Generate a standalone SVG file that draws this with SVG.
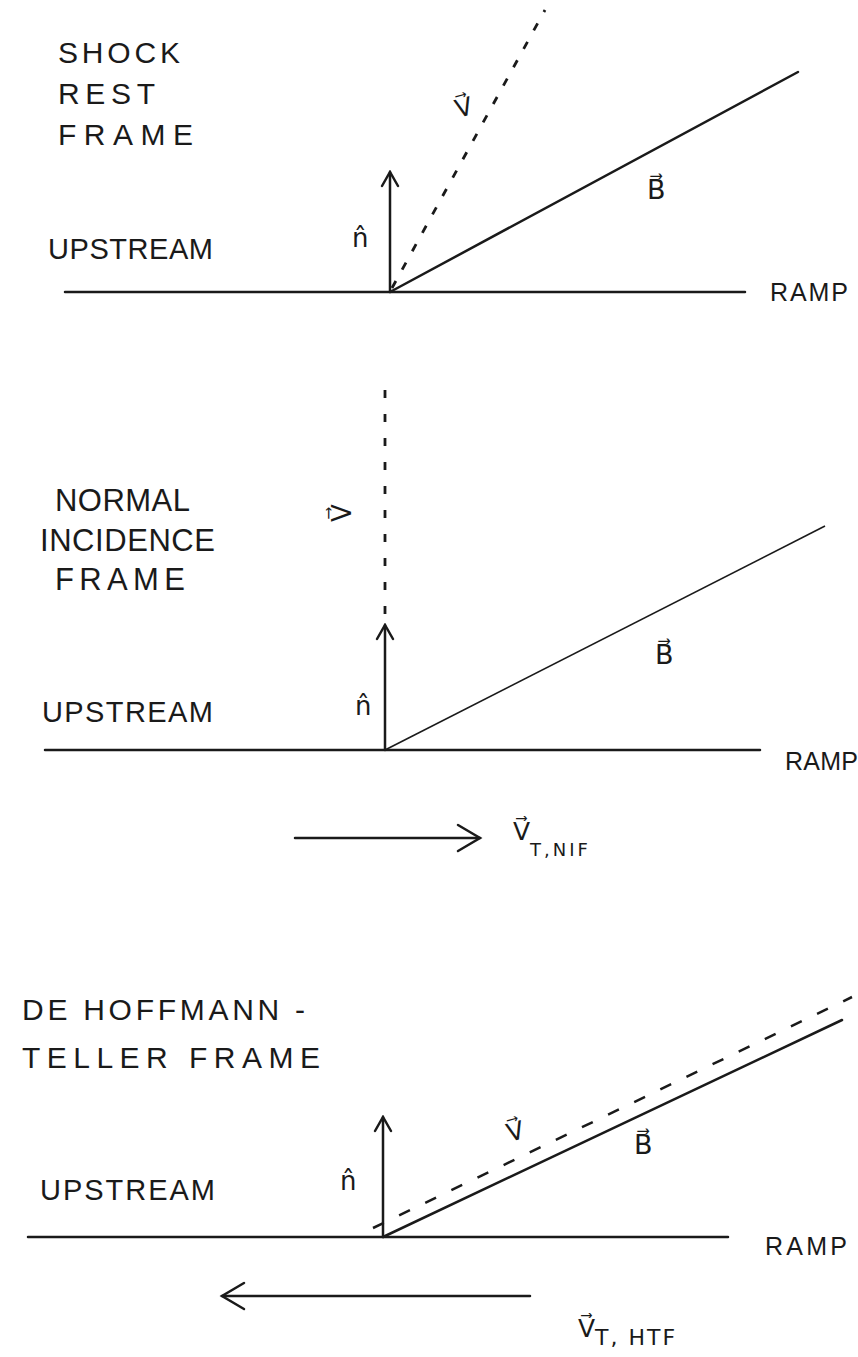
<svg xmlns="http://www.w3.org/2000/svg" width="858" height="1357" viewBox="0 0 858 1357">
<style>
.ln{stroke:#1a1a1a;stroke-width:2.5;fill:none;stroke-linecap:round}
.thin{stroke:#1a1a1a;stroke-width:1.6;fill:none}
.dash1{stroke:#1a1a1a;stroke-width:2.8;fill:none;stroke-dasharray:8 13}
.dot2{stroke:#1a1a1a;stroke-width:2.8;fill:none;stroke-dasharray:8 16}
.dash3{stroke:#1a1a1a;stroke-width:2.5;fill:none;stroke-dasharray:12 17}
.t{font-family:"Liberation Sans",Arial,sans-serif;fill:#1a1a1a}
.m{font-family:"DejaVu Sans",sans-serif;fill:#1a1a1a}
</style>
<defs>
<marker id="ah" viewBox="0 0 20 20" refX="18" refY="10" markerWidth="20" markerHeight="20" markerUnits="userSpaceOnUse" orient="auto"><path d="M4 2 L18 10 L4 18" fill="none" stroke="#1a1a1a" stroke-width="2.5" stroke-linecap="round"/></marker>
<marker id="ahb" viewBox="0 0 30 30" refX="26" refY="15" markerWidth="30" markerHeight="30" markerUnits="userSpaceOnUse" orient="auto"><path d="M4 2 L26 15 L4 28" fill="none" stroke="#1a1a1a" stroke-width="2.5" stroke-linecap="round"/></marker>
</defs>
<rect width="858" height="1357" fill="#fff"/>

<g id="connectors">
<!-- panel 1 -->
<line class="ln" x1="65" y1="292" x2="745" y2="292"/>
<line class="ln" x1="390" y1="292" x2="390" y2="172" marker-end="url(#ah)"/>
<line class="dash1" x1="392" y1="288" x2="545" y2="10"/>
<line class="ln" x1="390" y1="292" x2="798" y2="72"/>
<!-- panel 2 -->
<line class="ln" x1="45" y1="750" x2="760" y2="750"/>
<line class="dot2" x1="385" y1="390" x2="385" y2="620"/>
<line class="ln" x1="385" y1="750" x2="385" y2="625" marker-end="url(#ah)"/>
<line class="thin" x1="385" y1="750" x2="825" y2="526"/>
<line class="ln" x1="295" y1="838" x2="480" y2="838" marker-end="url(#ahb)"/>
<!-- panel 3 -->
<line class="ln" x1="28" y1="1237" x2="728" y2="1237"/>
<line class="ln" x1="383" y1="1237" x2="383" y2="1117" marker-end="url(#ah)"/>
<line class="ln" x1="383" y1="1237" x2="842" y2="1020"/>
<line class="dash3" x1="373" y1="1228" x2="852" y2="997"/>
<line class="ln" x1="530" y1="1296" x2="222" y2="1296" marker-end="url(#ahb)"/>
</g>

<g id="panel1">
<text class="t" x="58" y="63" font-size="30" textLength="122" lengthAdjust="spacing">SHOCK</text>
<text class="t" x="58" y="104" font-size="30" textLength="97" lengthAdjust="spacing">REST</text>
<text class="t" x="58" y="145" font-size="30" textLength="135" lengthAdjust="spacing">FRAME</text>
<text class="t" x="48" y="259" font-size="29" textLength="165" lengthAdjust="spacing">UPSTREAM</text>
<text class="t" x="770" y="301" font-size="25" textLength="78" lengthAdjust="spacing">RAMP</text>
<text class="m" x="352" y="247" font-size="26">n̂</text>
<text class="m" x="647" y="199" font-size="27">B⃗</text>
<text class="m" x="464" y="116" font-size="25" text-anchor="middle" transform="rotate(-15 464 108)">V⃗</text>
</g>

<g id="panel2">
<text class="t" x="55" y="511" font-size="31" textLength="135" lengthAdjust="spacing">NORMAL</text>
<text class="t" x="40" y="551" font-size="31" textLength="175" lengthAdjust="spacing">INCIDENCE</text>
<text class="t" x="55" y="590" font-size="31" textLength="130" lengthAdjust="spacing">FRAME</text>
<text class="t" x="42" y="722" font-size="29" textLength="171" lengthAdjust="spacing">UPSTREAM</text>
<text class="t" x="785" y="770" font-size="25" textLength="73" lengthAdjust="spacing">RAMP</text>
<text class="m" x="355" y="715" font-size="26">n̂</text>
<text class="m" x="655" y="664" font-size="27">B⃗</text>
<text class="m" x="342" y="522" font-size="26" text-anchor="middle" transform="rotate(-90 342 513)">V⃗</text>
<text class="m" x="513" y="840" font-size="25">V⃗<tspan font-size="18" dy="16" letter-spacing="3">T,NIF</tspan></text>
</g>

<g id="panel3">
<text class="t" x="22" y="1020" font-size="30" textLength="283" lengthAdjust="spacing">DE  HOFFMANN -</text>
<text class="t" x="22" y="1068" font-size="30" textLength="298" lengthAdjust="spacing">TELLER FRAME</text>
<text class="t" x="40" y="1200" font-size="29" textLength="175" lengthAdjust="spacing">UPSTREAM</text>
<text class="t" x="765" y="1255" font-size="25" textLength="82" lengthAdjust="spacing">RAMP</text>
<text class="m" x="340" y="1190" font-size="26">n̂</text>
<text class="m" x="634" y="1154" font-size="27">B⃗</text>
<text class="m" x="515" y="1140" font-size="25" text-anchor="middle" transform="rotate(-15 515 1130)">V⃗</text>
<text class="m" x="578" y="1337" font-size="25">V⃗<tspan font-size="22" dy="8" letter-spacing="2">T, HTF</tspan></text>
</g>
</svg>
